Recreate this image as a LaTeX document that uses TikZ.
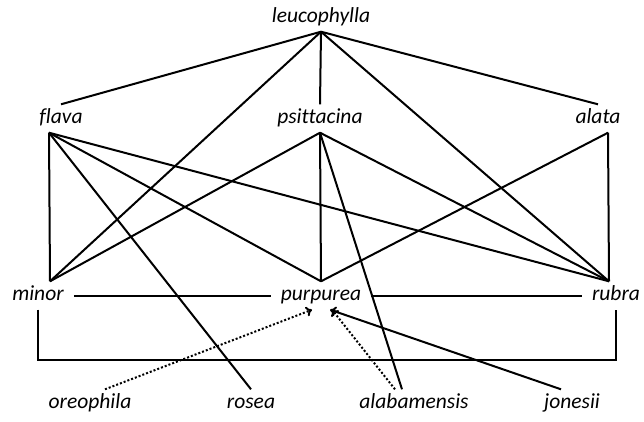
\documentclass[tikz,border=0pt]{standalone}
\usepackage{fontspec}
\setmainfont{Carlito}[Ligatures=CommonOff]
\usepackage{tikz}
\usetikzlibrary{arrows.meta}
\tikzstyle{species} = [font=\fontsize{21.5}{24}\selectfont\itshape, text height=13pt, text depth=4pt, inner xsep=10pt, inner ysep=5.5pt]
\tikzstyle{link} = [line width=2pt]
\tikzstyle{arrow} = [line width=2pt, -{To[length=6pt,width=10pt]}]
\tikzstyle{hybrid} = [arrow, dash pattern=on 2pt off 2pt]

\begin{document}
\begin{tikzpicture}[node distance=101pt]
\useasboundingbox (0,0) rectangle (644pt,-421pt);

\node (leuc) [species] at (321pt,-17.5pt) {leucophylla};
\node (flav) [species, below of=leuc, xshift=-260pt] {flava};
\node (psit) [species, below of=leuc, xshift=-1pt] {psittacina};
\node (alat) [species, below of=leuc, xshift=277pt] {alata};
\node (minr) [species, below of=flav, yshift=-76pt, xshift=-23pt] {minor};
\node (purp) [species, below of=psit, yshift=-76pt, xshift=1pt] {purpurea};
\node (rubr) [species, below of=alat, yshift=-76pt, xshift=18pt] {rubra};
\node (oreo) [species, below of=minr, yshift=-7pt, xshift=52pt] {oreophila};
\node (rose) [species, below of=purp, yshift=-7pt, xshift=-70pt] {rosea};
\node (alab) [species, below of=purp, yshift=-7pt, xshift=93pt] {alabamensis};
\node (jone) [species, below of=rubr, yshift=-7pt, xshift=-44pt] {jonesii};

\draw [link] (leuc.south) -- (flav.north);
\draw [link] (leuc.south) -- ([xshift=12pt]minr.north);
\draw [link] (leuc.south) -- (psit.north);
\draw [link] (leuc.south) -- ([xshift=-7pt]rubr.north);
\draw [link] (leuc.south) -- (alat.north);
\draw [link] ([xshift=-12pt]flav.south) -- ([xshift=12pt]minr.north);
\draw [link] ([xshift=-12pt]flav.south) -- (purp.north);
\draw [link] ([xshift=-12pt]flav.south) -- ([xshift=-7pt]rubr.north);
\draw [link] ([xshift=-12pt]flav.south) -- (rose.north);
\draw [link] (psit.south) -- ([xshift=12pt]minr.north);
\draw [link] (psit.south) -- (purp.north);
\draw [link] (psit.south) -- ([xshift=-7pt]rubr.north);
\draw [link] (psit.south) -- ([xshift=-12pt]alab.north);
\draw [link] ([xshift=10pt]alat.south) -- (purp.north);
\draw [link] ([xshift=10pt]alat.south) -- ([xshift=-7pt]rubr.north);
\draw [link] (minr.east) -- (purp.west);
\draw [link] (purp.east) -- (rubr.west);
\draw [link] (minr.south) -- ++(0,-50pt) -| (rubr.south);
\draw [arrow] ([xshift=-11pt]jone.north) -- ([xshift=9pt]purp.south);
\draw [hybrid] ([xshift=15pt]oreo.north) -- ([xshift=-9pt]purp.south);
\draw [hybrid] ([xshift=-19pt]alab.north) -- ([xshift=11pt]purp.south);
\end{tikzpicture}
\end{document}
